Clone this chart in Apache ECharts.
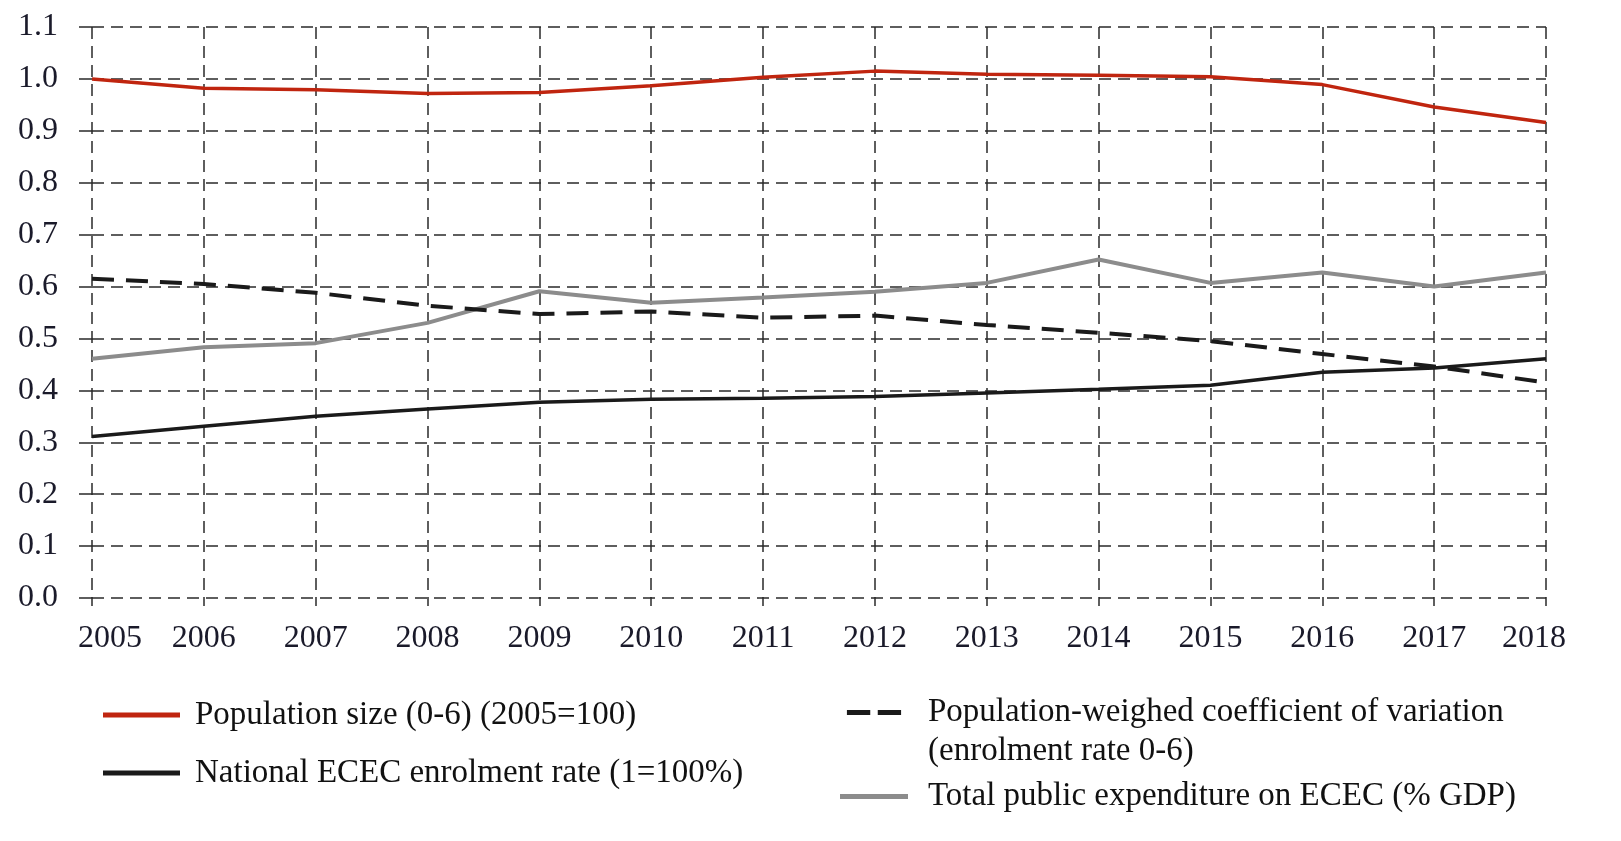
<!DOCTYPE html>
<html>
<head>
<meta charset="utf-8">
<script src="https://cdn.jsdelivr.net/npm/echarts@6/dist/echarts.min.js"></script>
<style>html,body{margin:0;padding:0;background:#fff;}#c{width:1621px;height:841px;}</style>
</head>
<body>
<div id="c"></div>
<script>
const years = ['2005','2006','2007','2008','2009','2010','2011','2012','2013','2014','2015','2016','2017','2018'];
const populationSize = [1.0, 0.982, 0.979, 0.972, 0.974, 0.987, 1.003, 1.015, 1.009, 1.007, 1.004, 0.989, 0.946, 0.916];
const coeffVariation = [0.615, 0.605, 0.588, 0.563, 0.547, 0.552, 0.54, 0.544, 0.526, 0.511, 0.495, 0.47, 0.446, 0.415];
const enrolmentRate = [0.311, 0.331, 0.35, 0.364, 0.377, 0.383, 0.385, 0.388, 0.395, 0.402, 0.41, 0.435, 0.443, 0.461];
const expenditure = [0.461, 0.483, 0.491, 0.53, 0.591, 0.569, 0.579, 0.59, 0.607, 0.652, 0.607, 0.627, 0.6, 0.627];
const yTicks = {min: 0, max: 1.1, interval: 0.1};

const names = {
  pop: 'Population size (0-6) (2005=100)',
  enr: 'National ECEC enrolment rate (1=100%)',
  cv: 'Population-weighed coefficient of variation\n(enrolment rate 0-6)',
  exp: 'Total public expenditure on ECEC (% GDP)'
};

const font = 'Liberation Serif, Times New Roman, serif';
const labelColor = '#1a1a2a';
const chart = echarts.init(document.getElementById('c'));
const gridLine = {show: true, interval: 0, lineStyle: {color: '#2a2a2a', type: [12, 7], width: 1.5}};
const dashIcon = 'path://M0,0h28v6h-28z M37,0h28v6h-28z';

chart.setOption({
  animation: false,
  grid: {left: 92, right: 75, top: 27, bottom: 243, containLabel: false},
  xAxis: {
    type: 'category', data: years, boundaryGap: false,
    axisLine: {show: false},
    axisTick: {show: true, interval: 0, length: 8, lineStyle: {color: '#2a2a2a', width: 1.5}},
    splitLine: gridLine,
    axisLabel: {
      interval: 0, margin: 25, fontFamily: font, fontSize: 32, color: labelColor,
      formatter: function (v, i) {
        if (i === 0) return '{first|' + v + '}';
        if (i === years.length - 1) return '{last|' + v + '}';
        return v;
      },
      rich: {
        first: {fontFamily: font, fontSize: 32, color: labelColor, padding: [0, 0, 0, 36]},
        last: {fontFamily: font, fontSize: 32, color: labelColor, padding: [0, 24, 0, 0]}
      }
    }
  },
  yAxis: {
    type: 'value', min: yTicks.min, max: yTicks.max, interval: yTicks.interval,
    axisLine: {show: false},
    axisTick: {show: true, length: 13, lineStyle: {color: '#2a2a2a', width: 1.5}},
    splitLine: gridLine,
    axisLabel: {
      margin: 34, fontFamily: font, fontSize: 32, color: labelColor,
      formatter: function (v) { return v.toFixed(1); }
    }
  },
  legend: [
    {
      left: 103, top: 697, orient: 'vertical', padding: 0, itemGap: 22,
      itemWidth: 77, itemHeight: 5,
      textStyle: {fontFamily: font, fontSize: 33, color: '#111', lineHeight: 36, padding: [0, 0, 0, 10]},
      data: [{name: names.pop, icon: 'rect'}, {name: names.enr, icon: 'rect'}]
    },
    {
      left: 840, top: 654, orient: 'vertical', padding: 0, itemGap: 6,
      itemWidth: 68, itemHeight: 5,
      textStyle: {fontFamily: font, fontSize: 33, color: '#111', lineHeight: 39, padding: [0, 0, 0, 15]},
      formatter: function (n) { return n.indexOf('\n') >= 0 ? '\n' + n : n; },
      data: [{name: names.cv, icon: dashIcon}, {name: names.exp, icon: 'rect'}]
    }
  ],
  series: [
    {name: names.pop, type: 'line', data: populationSize, symbol: 'none',
     lineStyle: {color: '#c0250f', width: 3.5}, itemStyle: {color: '#c0250f'}, z: 5},
    {name: names.cv, type: 'line', data: coeffVariation, symbol: 'none',
     lineStyle: {color: '#1a1a1a', width: 4, type: [22, 12]}, itemStyle: {color: '#1a1a1a'}, z: 4},
    {name: names.enr, type: 'line', data: enrolmentRate, symbol: 'none',
     lineStyle: {color: '#1a1a1a', width: 3.5}, itemStyle: {color: '#1a1a1a'}, z: 4},
    {name: names.exp, type: 'line', data: expenditure, symbol: 'none',
     lineStyle: {color: '#8c8c8c', width: 4}, itemStyle: {color: '#8c8c8c'}, z: 3}
  ]
});
</script>
</body>
</html>
